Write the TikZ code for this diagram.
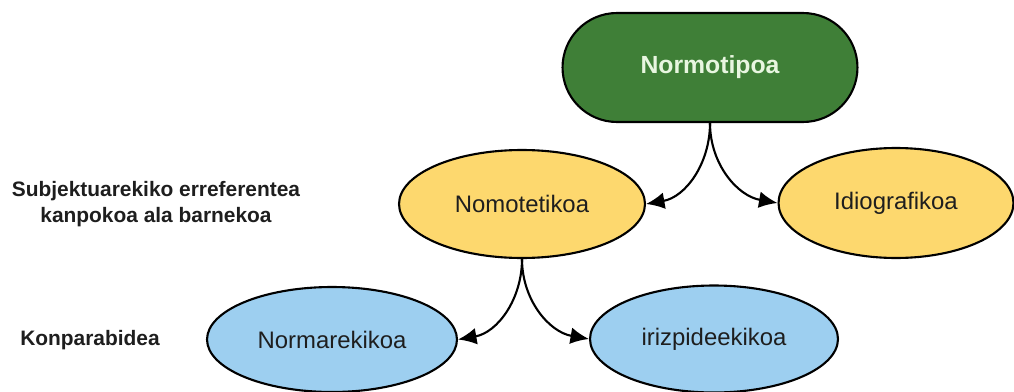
\documentclass[tikz,border=0pt]{standalone}
\usepackage{fontspec}
\setmainfont{Liberation Sans}
\usetikzlibrary{shapes.geometric,shapes.misc,arrows.meta}
\definecolor{gfill}{HTML}{3F7F37}
\definecolor{gtext}{HTML}{E8F6E0}
\definecolor{yfill}{HTML}{FDD86E}
\definecolor{bfill}{HTML}{9DCFF0}
\definecolor{ink}{HTML}{1E1E1E}
\tikzset{
  px/.style={x=0.02cm,y=-0.02cm},
  box/.style={draw=black,line width=1.2pt,inner sep=0pt,font=\fontsize{13.6}{16}\selectfont,text=ink},
  oval/.style={box,ellipse},
  side/.style={font=\bfseries\fontsize{11.9}{15}\selectfont,text=ink,align=center,inner sep=0pt},
  conn/.style={line width=1.2pt,-{Latex[length=10.5pt,width=9.5pt]}}
}
\begin{document}
\begin{tikzpicture}[px]
\useasboundingbox (0,0) rectangle (1014,392);
\node[box,rounded rectangle,fill=gfill,text=gtext,font=\bfseries\fontsize{14.1}{16}\selectfont,minimum width=5.9cm,minimum height=2.18cm] (top) at (710,67.5) {Normotipoa};
\node[oval,fill=yfill,minimum width=4.92cm,minimum height=2.16cm] (nomo) at (522,204) {Nomotetikoa};
\node[oval,fill=yfill,minimum width=4.7cm,minimum height=2.2cm] (idio) at (896,203) {Idiografikoa};
\node[oval,fill=bfill,minimum width=5.0cm,minimum height=2.1cm] (norm) at (332,339.5) {Normarekikoa};
\node[oval,fill=bfill,minimum width=4.96cm,minimum height=2.14cm] (iriz) at (714,339) {irizpideekikoa};
\node[side] (lab1) at (156,204) {Subjektuarekiko erreferentea\\kanpokoa ala barnekoa};
\node[side] (lab2) at (90,340) {Konparabidea};
\draw[conn] (top.south) to[out=-90,in=10] (nomo.east);
\draw[conn] (top.south) to[out=-90,in=170] (idio.west);
\draw[conn] (nomo.south) to[out=-90,in=10] (norm.east);
\draw[conn] (nomo.south) to[out=-90,in=170] (iriz.west);
\end{tikzpicture}
\end{document}
